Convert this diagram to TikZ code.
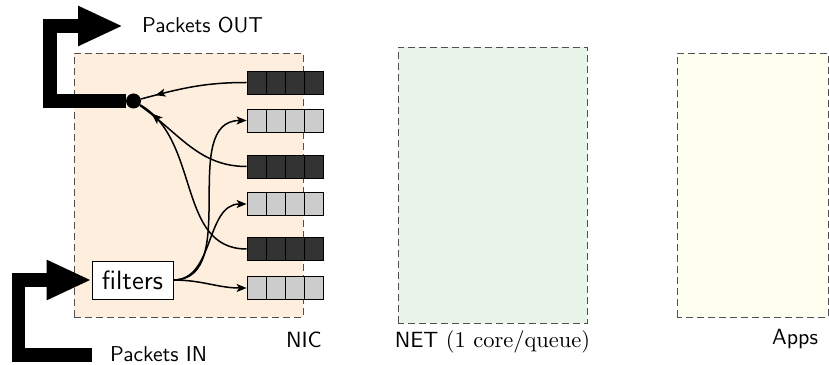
\documentclass[tikz,border=0pt]{standalone}
\usepackage{fontspec}
\setsansfont{lmsans10-regular}[Extension=.otf]
\newfontfamily\parenfont{lmroman10-regular}[Extension=.otf]
\usetikzlibrary{arrows.meta,decorations.markings}
\definecolor{nicbg}{RGB}{253,238,222}
\definecolor{netbg}{RGB}{232,243,234}
\definecolor{appbg}{RGB}{255,255,241}
\definecolor{qdark}{RGB}{51,51,51}
\definecolor{qlight}{RGB}{204,204,204}
\definecolor{framegray}{RGB}{80,80,80}
\tikzset{
  region/.style={draw=framegray, line width=0.9pt, dash pattern=on 7pt off 4pt},
  queue/.style={draw=black, line width=0.8pt, minimum width=76pt, minimum height=23pt, inner sep=0pt,
    path picture={\foreach \k in {1,2,3}{\draw[line width=0.8pt]
      ([xshift=\k*19pt]path picture bounding box.north west) --
      ([xshift=\k*19pt]path picture bounding box.south west);}}},
  qfull/.style={queue, fill=qdark},
  qfree/.style={queue, fill=qlight},
  fat/.style={line width=13.5pt, line join=miter, -{Triangle[length=45pt,width=37pt]}},
  link/.style={line width=1.5pt, -{Stealth[length=10pt,width=8pt,inset=2.5pt]}},
  drain/.style={line width=1.5pt, postaction={decorate},
    decoration={markings, mark=at position -15pt with {\arrow{Stealth[length=10pt,width=8pt,inset=2.5pt]}}}},
  lbl/.style={font=\fontsize{22}{26}\selectfont\sffamily, inner sep=0pt},
  io/.style={font=\fontsize{21.5}{26}\selectfont\sffamily, inner sep=0pt},
}
\begin{document}
\begin{tikzpicture}[x=1pt,y=1pt]
\useasboundingbox (0,0) rectangle (829,364);
\clip (0,0) rectangle (829,364);

% the three regions
\path[region, fill=nicbg] (74,47) rectangle (303,311);
\path[region, fill=netbg] (398,41) rectangle (587,317);
\path[region, fill=appbg] (677,47) rectangle (828,311);

% NIC queues, top to bottom
\node[qfull] (q1) at (285,281.5) {};
\node[qfree] (q2) at (285,243.5) {};
\node[qfull] (q3) at (285,197.5) {};
\node[qfree] (q4) at (285,160) {};
\node[qfull] (q5) at (285,115) {};
\node[qfree] (q6) at (285,76) {};

% packet filter and transmit merge point
\node[draw=black, fill=white, line width=0.8pt, minimum width=81pt, minimum height=38pt, inner sep=0pt,
      font=\fontsize{26.5}{30}\selectfont\sffamily] (filters) at (132.5,84) {filters};
\node[circle, fill=black, minimum size=15pt, inner sep=0pt] (dot) at (133.5,263) {};

% receive side: filters spread packets over the RX queues
\draw[link] (filters.east) to[out=0,in=180] (q2.west);
\draw[link] (filters.east) to[out=0,in=180] (q4.west);
\draw[link] (filters.east) to[out=0,in=180] (q6.west);

% transmit side: TX queues merge into the output
\draw[drain] (q1.west) to[out=180,in=15] (dot);
\draw[drain] (q3.west) to[out=180,in=-35] (dot);
\draw[drain] (q5.west) to[out=180,in=-30] (dot);

% wire in and out
\coordinate (inStart) at (92,9);
\draw[fat] (dot.west) -| (50,338) -- (123,338);
\draw[fat] (inStart) -| (18.5,84) -- (filters.west);

% labels
\node[io, anchor=base west] at (142,331) {Packets OUT};
\node[io, anchor=base west] at (110,3) {Packets IN};
\node[lbl, anchor=base east] at (322,17) {NIC};
\node[lbl, anchor=base] at (492.5,17) {NET {\parenfont\fontsize{22.5}{26}\selectfont(1 core/queue)}};
\node[lbl, anchor=base] at (795,20) {Apps};
\end{tikzpicture}
\end{document}
